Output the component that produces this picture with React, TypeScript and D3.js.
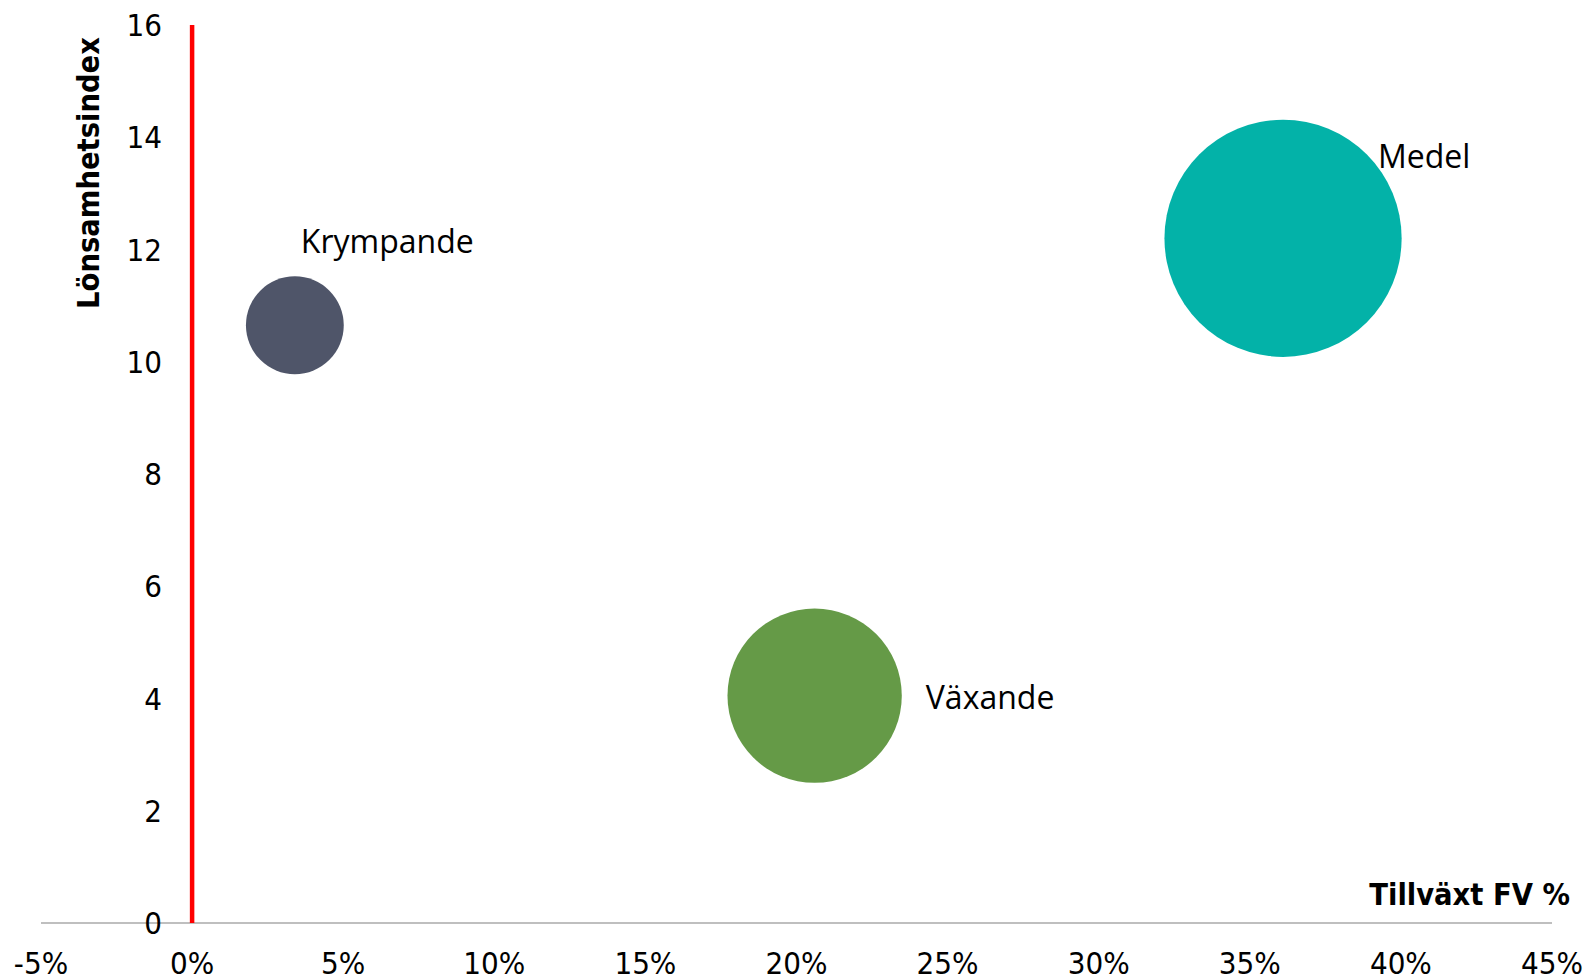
import React from "react";
import * as d3 from "d3";

const categories = ["Krympande", "Växande", "Medel"];
const growthPct = [3.4, 20.6, 36.1];
const profitIndex = [10.65, 4.05, 12.2];
const bubbleSize = [17, 54, 100];
const colors = ["#4F5569", "#659A47", "#03B2A8"];
const xTicks = [-5, 0, 5, 10, 15, 20, 25, 30, 35, 40, 45];
const yTicks = [0, 2, 4, 6, 8, 10, 12, 14, 16];

const W = 1590;
const H = 980;

export default function App() {
  const x = d3.scaleLinear().domain([-5, 45]).range([41, 1552]);
  const y = d3.scaleLinear().domain([0, 16]).range([923, 25]);
  const r = d3.scaleSqrt().domain([0, 100]).range([0, 118.6]);

  const tickFont = "'Liberation Sans Narrow', 'DejaVu Sans Condensed', sans-serif";
  const labelFont = "'Open Sans', 'Noto Sans', sans-serif";

  // label placement relative to bubble
  const labelPos = (i: number) => {
    const cx = x(growthPct[i]);
    const cy = y(profitIndex[i]);
    const rr = r(bubbleSize[i]);
    if (i === 0) return { lx: cx + 6, ly: cy - 85 };
    if (i === 1) return { lx: cx + rr + 24, ly: cy + 1 };
    return { lx: cx + rr * 0.8, ly: cy - 83 };
  };

  return (
    <svg
      width={W}
      height={H}
      style={{ position: "absolute", left: 0, top: 0, background: "#fff" }}
    >
      {/* x axis line */}
      <line x1={x(-5)} x2={x(45)} y1={y(0)} y2={y(0)} stroke="#BFBFBF" strokeWidth={2} />
      {/* vertical axis at 0 */}
      <line x1={x(0)} x2={x(0)} y1={y(16)} y2={y(0)} stroke="#FF0000" strokeWidth={4.5} />

      {yTicks.map((t) => (
        <text
          key={"y" + t}
          x={162}
          y={y(t)}
          textAnchor="end"
          dominantBaseline="central"
          fontFamily={tickFont}
          fontSize={31}
          fill="#000"
        >
          {t}
        </text>
      ))}
      {xTicks.map((t) => (
        <text
          key={"x" + t}
          x={x(t)}
          y={963}
          textAnchor="middle"
          dominantBaseline="central"
          fontFamily={tickFont}
          fontSize={31}
          fill="#000"
        >
          {t + "%"}
        </text>
      ))}

      {categories.map((c, i) => (
        <circle
          key={c}
          cx={x(growthPct[i])}
          cy={y(profitIndex[i])}
          r={r(bubbleSize[i])}
          fill={colors[i]}
        />
      ))}
      {categories.map((c, i) => {
        const p = labelPos(i);
        return (
          <text
            key={"l" + c}
            x={p.lx}
            y={p.ly}
            dominantBaseline="central"
            fontFamily={labelFont}
            fontSize={32}
            fill="#000"
          >
            {c}
          </text>
        );
      })}

      <text
        transform={`translate(88,173) rotate(-90)`}
        textAnchor="middle"
        dominantBaseline="central"
        fontFamily={tickFont}
        fontWeight="bold"
        fontSize={30.5}
        fill="#000"
      >
        Lönsamhetsindex
      </text>
      <text
        x={1570}
        y={894}
        textAnchor="end"
        dominantBaseline="central"
        fontFamily={tickFont}
        fontWeight="bold"
        fontSize={30.5}
        fill="#000"
      >
        Tillväxt FV %
      </text>
    </svg>
  );
}
